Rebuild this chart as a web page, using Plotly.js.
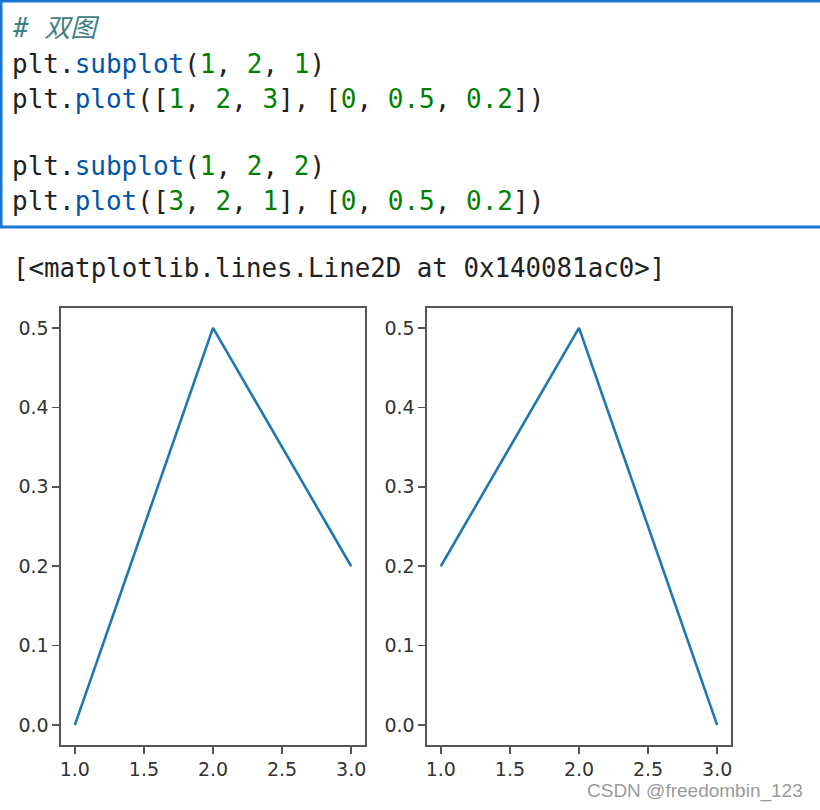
<!DOCTYPE html>
<html>
<head>
<meta charset="utf-8">
<script src="https://cdn.plot.ly/plotly-3.0.1.min.js"></script>
<style>
html,body{margin:0;padding:0;background:#fff;}
#chart{width:820px;height:810px;}
</style>
</head>
<body>
<div id="chart"></div>
<script>
// Data
const leftX = [1, 2, 3];
const leftY = [0, 0.5, 0.2];
const rightX = [3, 2, 1];
const rightY = [0, 0.5, 0.2];
const xTicks = [1.0, 1.5, 2.0, 2.5, 3.0];
const yTicks = [0.0, 0.1, 0.2, 0.3, 0.4, 0.5];

const W = 820, H = 810;
const px = v => v / W;
const py = v => 1 - v / H;

const G = s => '<span style="color:#008000">' + s + '</span>';
const B = s => '<span style="color:#0055aa">' + s + '</span>';
const codeLines = [
  {y: 28, t: '<span style="color:#408080"><i># 双图</i></span>'},
  {y: 64, t: 'plt.' + B('subplot') + '(' + G('1') + ', ' + G('2') + ', ' + G('1') + ')'},
  {y: 99, t: 'plt.' + B('plot') + '([' + G('1') + ', ' + G('2') + ', ' + G('3') + '], [' + G('0') + ', ' + G('0.5') + ', ' + G('0.2') + '])'},
  {y: 166, t: 'plt.' + B('subplot') + '(' + G('1') + ', ' + G('2') + ', ' + G('2') + ')'},
  {y: 201, t: 'plt.' + B('plot') + '([' + G('3') + ', ' + G('2') + ', ' + G('1') + '], [' + G('0') + ', ' + G('0.5') + ', ' + G('0.2') + '])'}
];

const annotations = codeLines.map(l => ({
  xref: 'paper', yref: 'paper', x: px(10), y: py(l.y),
  xanchor: 'left', yanchor: 'middle', showarrow: false,
  text: l.t, font: {family: 'DejaVu Sans Mono, Noto Sans CJK SC', size: 26, color: '#212121'}
}));
annotations.push({
  xref: 'paper', yref: 'paper', x: px(11), y: py(268),
  xanchor: 'left', yanchor: 'middle', showarrow: false,
  text: '[&lt;matplotlib.lines.Line2D at 0x140081ac0&gt;]',
  font: {family: 'DejaVu Sans Mono', size: 25.8, color: '#212121'}
});
annotations.push({
  xref: 'paper', yref: 'paper', x: px(805), y: py(791),
  xanchor: 'right', yanchor: 'middle', showarrow: false,
  text: 'CSDN @freedombin_123',
  font: {family: 'Liberation Sans, Arial', size: 19, color: '#9a9a9a'}
});

const shapes = [
  {type: 'rect', xref: 'paper', yref: 'paper', x0: px(1), x1: px(830), y0: py(227), y1: py(1),
   line: {color: '#1976d2', width: 3}, fillcolor: 'rgba(0,0,0,0)'}
];

const axCommon = {
  showgrid: false, zeroline: false, showline: true, mirror: true,
  linecolor: '#555555', linewidth: 1.6, ticks: 'outside', ticklen: 7,
  tickcolor: '#555555', tickwidth: 1.6, fixedrange: true,
  tickfont: {family: 'DejaVu Sans', size: 19, color: '#333333'}
};
const xAx = dom => Object.assign({}, axCommon, {
  domain: dom, range: [0.9, 3.1], tickvals: xTicks,
  ticktext: xTicks.map(v => v.toFixed(1))
});
const yAx = (anchor) => Object.assign({}, axCommon, {
  domain: [py(745), py(308)], range: [-0.025, 0.525], tickvals: yTicks,
  ticktext: yTicks.map(v => v.toFixed(1)), anchor: anchor
});

const traces = [
  {x: leftX, y: leftY, type: 'scatter', mode: 'lines', xaxis: 'x', yaxis: 'y',
   line: {color: '#1f77b4', width: 2.6}, hoverinfo: 'skip'},
  {x: rightX, y: rightY, type: 'scatter', mode: 'lines', xaxis: 'x2', yaxis: 'y2',
   line: {color: '#1f77b4', width: 2.6}, hoverinfo: 'skip'}
];

const layout = {
  width: W, height: H, margin: {l: 0, r: 0, t: 0, b: 0},
  paper_bgcolor: '#ffffff', plot_bgcolor: '#ffffff', showlegend: false,
  xaxis: Object.assign(xAx([px(61), px(365)]), {anchor: 'y'}),
  yaxis: yAx('x'),
  xaxis2: Object.assign(xAx([px(427), px(731)]), {anchor: 'y2'}),
  yaxis2: yAx('x2'),
  annotations: annotations, shapes: shapes
};

Plotly.newPlot('chart', traces, layout, {displayModeBar: false, staticPlot: true});
</script>
</body>
</html>
